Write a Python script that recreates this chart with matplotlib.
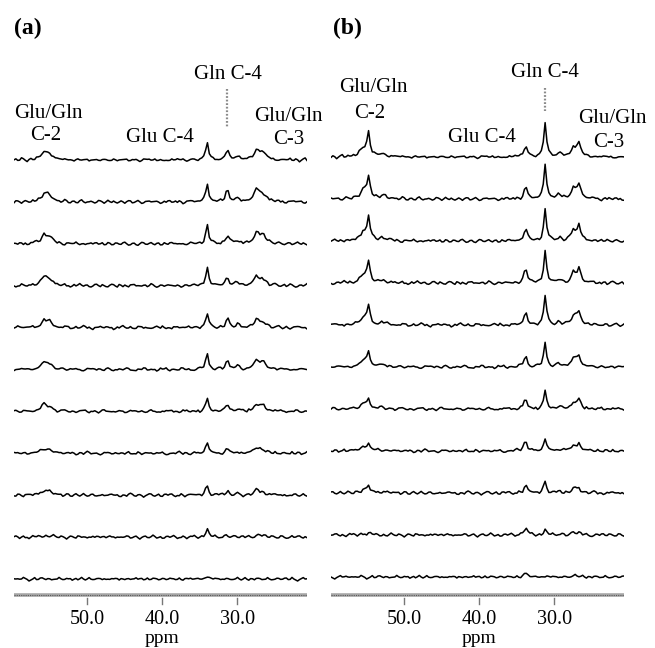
import numpy as np
import matplotlib
matplotlib.use('Agg')
import matplotlib.pyplot as plt

plt.rcParams['font.family'] = ['Liberation Serif', 'DejaVu Serif']

W, H = 655, 648

# chemical shift axis (ppm), left to right
ppm = np.arange(59.7, 20.69, -0.25)

# peak list per panel: centre (ppm), half width (ppm)
peaks_a = [55.7, 55.0, 34.0, 31.3, 29.9, 27.4, 26.6]
widths_a = [0.45, 0.45, 0.22, 0.25, 0.3, 0.4, 0.5]
peaks_b = [55.3, 54.7, 52.8, 33.8, 31.2, 29.3, 27.4, 26.7]
widths_b = [0.55, 0.22, 0.6, 0.25, 0.22, 0.35, 0.35, 0.3]

# peak heights (px) for the 11 traces, top to bottom
heights_a = [
    [7, 7, 8, 8, 6, 6, 6, 4, 4, 1, 0],          # Glu/Gln C-2
    [6, 6, 6, 6, 5, 5, 4, 3, 3, 1, 0],          # Glu/Gln C-2
    [18, 19, 19, 19, 14, 16, 13, 11, 10, 8, 3],  # 34 ppm
    [10, 12, 9, 9, 9, 9, 7, 4, 4, 2, 0],         # Gln C-4
    [4, 4, 3, 3, 3, 3, 2, 1, 1, 0, 0],           # 29.9 ppm
    [9, 11, 10, 8, 7, 8, 6, 5, 4, 2, 0],         # Glu/Gln C-3
    [7, 8, 8, 6, 5, 7, 5, 3, 3, 1, 0],           # Glu/Gln C-3
]
heights_b = [
    [9, 9, 9, 8, 7, 6, 5, 4, 3, 1, 0],            # C-2 shoulder
    [21, 20, 21, 19, 17, 14, 9, 6, 6, 2, 0],      # Glu/Gln C-2
    [3, 3, 3, 2, 2, 2, 1, 1, 1, 0, 0],            # 52.8 ppm
    [12, 12, 13, 15, 12, 11, 10, 11, 8, 8, 4],    # 34 ppm
    [34, 35, 31, 32, 29, 24, 18, 12, 12, 5, 1],   # Gln C-4
    [4, 4, 3, 3, 3, 3, 2, 2, 1, 1, 0],            # 29.3 ppm
    [9, 10, 10, 9, 9, 8, 6, 5, 4, 2, 1],          # C-3 shoulder
    [14, 15, 15, 14, 13, 11, 9, 7, 5, 2, 1],      # Glu/Gln C-3
]

# baseline ripple (px), read as typical wiggle of the traces
ripple = [
    0, 1, -1, 0, 2, 1, -1, -2, 0, 1, 0, -1, 1, 2, 0, -1, -1, 0, 1, -1,
    -2, 0, 1, 1, 0, -1, 0, 2, 1, -1, 0, 0, -2, -1, 1, 0, -1, 1, 2, 1,
    -1, -1, 0, 1, 0, -2, -1, 0, 1, 2, 0, -1, 0, 1, -1, -2, 0, 1, 0, 1,
    2, 0, -1, 0, -1, 1, 0, -2, -1, 1, 2, 1, 0, -1, 0, 1, -1, 0, 2, 0,
    -1, -2, -1, 0, 1, 0, 1, 2, 0, -1, 1, 0, -1, -1, 0, 2, 1, 0, -2, -1,
    0, 1, -1, 0, 1, 2, 1, -1, 0, -1, -2, 0, 1, 0, 2, 1, -1, 0, 1, -1,
    0, -2, -1, 1, 0, 1, 2, 0, -1, 0, 1, -1, -1, 0, 2, 1, 0, -1, 1, 0,
    -1, -2, 0, 1, 1, 0, -1, 2, 0, -1, 1, 0, -2, 0, 1, 2, -1, 0, 1, 0,
]

tick_ppm = [50.0, 40.0, 30.0]
tick_labels = ['50.0', '40.0', '30.0']


def spectrum(centres, widths, heights, k, shift):
    r = np.array(ripple, dtype=float)
    n = len(ppm)
    noise = 0.6 * np.roll(r, 23 * k + shift)[:n] + 0.4 * np.roll(r[::-1], 41 * k + shift)[:n]
    y = noise
    for c, w, h in zip(centres, widths, heights):
        y = y + h[k] / (1 + ((ppm - c) / w) ** 2)
    return y


def panel(left_px, right_px, first_base, spacing, centres, widths, heights, shift):
    ax = fig.add_axes([left_px / W, 0, (right_px - left_px) / W, 1])
    ax.set_xlim(ppm[0], ppm[-1])
    ax.set_ylim(H, 0)
    ax.axis('off')
    for k in range(11):
        base = first_base + k * spacing
        ax.plot(ppm, base - spectrum(centres, widths, heights, k, shift), color='black', lw=1.1)
    # scale bar
    ax.axhline(595, color='#a8a8a8', lw=2.6)
    ax.axhline(595, color='#5a5a5a', lw=0.8, dashes=(1, 1))
    for t, lab in zip(tick_ppm, tick_labels):
        ax.plot([t, t], [598, 604], color='#777777', lw=1.0)
        ax.text(t, 624, lab, ha='center', va='baseline', fontsize=14.5)
    ax.text(tick_ppm[1], 643, 'ppm', ha='center', va='baseline', fontsize=14)
    return ax


fig = plt.figure(figsize=(W / 100, H / 100), dpi=100)

ax_a = panel(14, 307, 160, 41.9, peaks_a, widths_a, heights_a, 0)
ax_b = panel(331, 624, 157, 42.0, peaks_b, widths_b, heights_b, 11)

# Gln C-4 markers
ax_a.plot([31.3, 31.3], [89, 128], color='#8a8a8a', lw=1.6, dashes=(0.8, 0.8))
ax_b.plot([31.2, 31.2], [88, 111], color='#8a8a8a', lw=1.6, dashes=(0.8, 0.8))


def label(x, y, s, **kw):
    fig.text(x / W, 1 - y / H, s, ha='center', va='baseline', **kw)


fs = 15
label(28, 34, '(a)', fontsize=17, fontweight='bold')
label(48, 118, 'Glu/Gln', fontsize=fs)
label(46, 140, 'C-2', fontsize=fs)
label(160, 142, 'Glu C-4', fontsize=fs)
label(228, 79, 'Gln C-4', fontsize=fs)
label(288, 121, 'Glu/Gln', fontsize=fs)
label(289, 144, 'C-3', fontsize=fs)

label(347, 34, '(b)', fontsize=17, fontweight='bold')
label(373, 92, 'Glu/Gln', fontsize=fs)
label(370, 118, 'C-2', fontsize=fs)
label(482, 142, 'Glu C-4', fontsize=fs)
label(545, 77, 'Gln C-4', fontsize=fs)
label(612, 123, 'Glu/Gln', fontsize=fs)
label(609, 147, 'C-3', fontsize=fs)

fig.savefig('out.png', dpi=100, facecolor='white')
